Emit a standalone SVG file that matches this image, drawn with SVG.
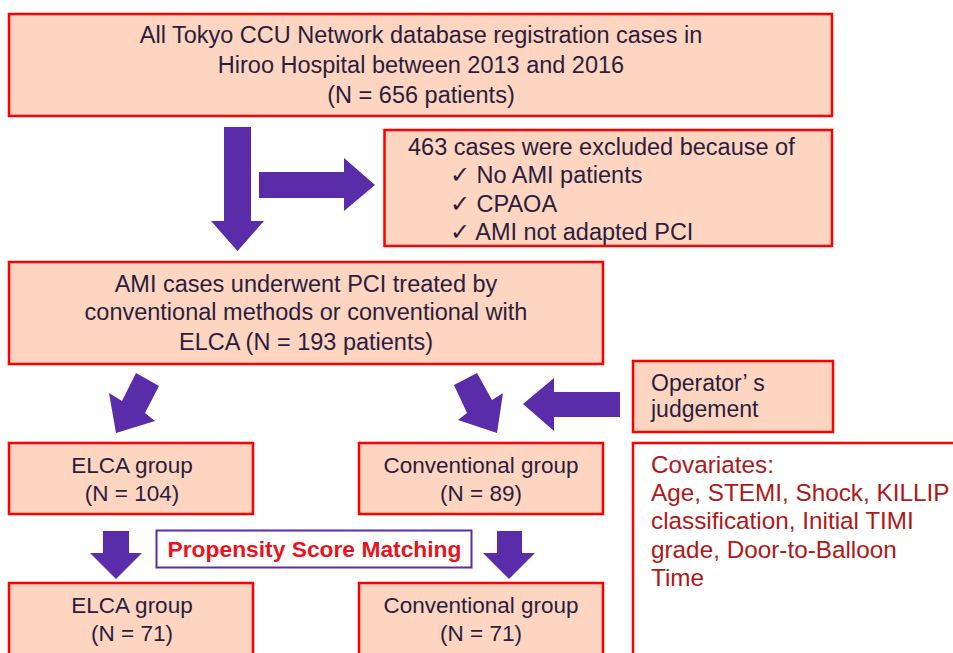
<svg xmlns="http://www.w3.org/2000/svg" width="953" height="653" viewBox="0 0 953 653">
<style>
.box{fill:#fdd5c1;stroke:#ff0000;stroke-width:2.5}
.wbox{fill:#ffffff;stroke:#ff0000;stroke-width:2.5}
.t{font-family:"Liberation Sans",Arial,sans-serif;font-size:23.5px;fill:#2b1d3d}
.g{font-size:22.5px}
.c{text-anchor:middle}
.cov{font-family:"Liberation Sans",Arial,sans-serif;font-size:24.3px;fill:#b01818}
.psm{font-family:"Liberation Sans",Arial,sans-serif;font-size:22.8px;font-weight:bold;fill:#e8141c;text-anchor:middle}
.arr{fill:#5a2ca9}
</style>
<rect width="953" height="653" fill="#ffffff"/>
<g id="connectors">
<polygon class="arr" points="224,127 251,127 251,221 264,221 237.5,251 211,221 224,221"/>
<polygon class="arr" points="259,172 344,172 344,158 375,185 344,211 344,198 259,198"/>
<polygon class="arr" points="136,373 159,386 145,413 155,421 116,433 109,393 122,401"/>
<polygon class="arr" points="454,385 477,373 492,400 503,393 497,433 458,420 467,413"/>
<polygon class="arr" points="620,392 554,392 554,378 523,404 554,431 554,417 620,417"/>
<polygon class="arr" points="103,531 129,531 129,553 142,553 116,579 90,553 103,553"/>
<polygon class="arr" points="497,531 522,531 522,553 535,553 509,579 483,553 497,553"/>
</g>
<g id="n-all">
<rect class="box" x="9" y="14" width="823" height="102"/>
<text class="t c" x="421" y="43">All Tokyo CCU Network database registration cases in</text>
<text class="t c" x="421" y="73">Hiroo Hospital between 2013 and 2016</text>
<text class="t c" x="421" y="103">(N = 656 patients)</text>
</g>
<g id="n-excluded">
<rect class="box" x="384.5" y="130" width="447.5" height="116"/>
<text class="t" x="408" y="155">463 cases were excluded because of</text>
<text class="t" x="450" y="183">✓ No AMI patients</text>
<text class="t" x="450" y="212">✓ CPAOA</text>
<text class="t" x="450" y="240">✓ AMI not adapted PCI</text>
</g>
<g id="n-ami">
<rect class="box" x="9" y="262" width="594" height="102"/>
<text class="t c" x="306" y="292">AMI cases underwent PCI treated by</text>
<text class="t c" x="306" y="320">conventional methods or conventional with</text>
<text class="t c" x="306" y="350">ELCA (N = 193 patients)</text>
</g>
<g id="n-operator">
<rect class="box" x="633" y="361" width="200" height="71"/>
<text class="t" x="651" y="391" style="font-size:23px">Operator’ s</text>
<text class="t" x="651" y="417" style="font-size:23px">judgement</text>
</g>
<g id="n-elca1">
<rect class="box" x="9" y="443" width="244" height="71"/>
<text class="t g c" x="132" y="473">ELCA group</text>
<text class="t g c" x="132" y="501">(N = 104)</text>
</g>
<g id="n-conv1">
<rect class="box" x="359" y="443" width="244" height="71"/>
<text class="t g c" x="481" y="473">Conventional group</text>
<text class="t g c" x="481" y="501">(N = 89)</text>
</g>
<g id="n-covariates">
<rect class="wbox" x="633" y="443" width="330" height="220"/>
<text class="cov" x="651" y="473">Covariates:</text>
<text class="cov" x="651" y="501">Age, STEMI, Shock, KILLIP</text>
<text class="cov" x="651" y="529">classification, Initial TIMI</text>
<text class="cov" x="651" y="558">grade, Door-to-Balloon</text>
<text class="cov" x="651" y="586">Time</text>
</g>
<g id="n-psm">
<rect x="156.5" y="530.5" width="315" height="37" fill="#ffffff" stroke="#5a2ca9" stroke-width="2"/>
<text class="psm" x="314.5" y="557">Propensity Score Matching</text>
</g>
<g id="n-elca2">
<rect class="box" x="9" y="583" width="244" height="80"/>
<text class="t g c" x="132" y="613">ELCA group</text>
<text class="t g c" x="132" y="641">(N = 71)</text>
</g>
<g id="n-conv2">
<rect class="box" x="359" y="583" width="244" height="80"/>
<text class="t g c" x="481" y="613">Conventional group</text>
<text class="t g c" x="481" y="641">(N = 71)</text>
</g>
</svg>
